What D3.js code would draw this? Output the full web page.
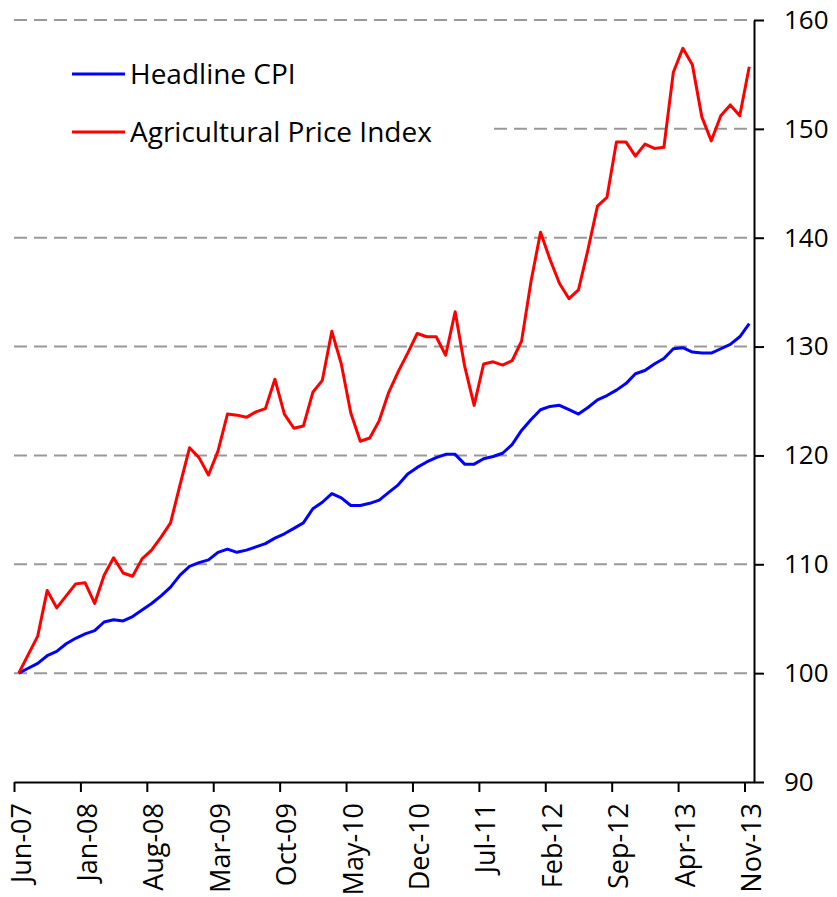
<!DOCTYPE html>
<html lang="en">
<head>
    <meta charset="UTF-8">
    <title>CPI vs Agricultural Price Index</title>
    <script src="https://d3js.org/d3.v7.min.js"></script>
    <style>
        body{
            margin: 0;
            background: white;
        }
        svg text{
            font-family: "Open Sans", sans-serif;
            fill: black;
        }
    </style>
</head>
<body>
    <script>
        // tick labels along the bottom, one every 7 months
        const tickLabels = ["Jun-07","Jan-08","Aug-08","Mar-09","Oct-09","May-10",
                            "Dec-10","Jul-11","Feb-12","Sep-12","Apr-13","Nov-13"]
        const yTicks = [90,100,110,120,130,140,150,160]
        const gridValues = [100,110,120,130,140,150,160]

        // monthly values Jun-07 .. Nov-13 (index 100 = Jun-07)
        const headlineCPI = [100,100.45,100.9,101.6,102.0,102.7,103.2,103.6,103.9,104.7,
            104.9,104.8,105.2,105.8,106.4,107.1,107.9,109.0,109.8,110.15,
            110.4,111.1,111.4,111.1,111.3,111.6,111.9,112.4,112.8,113.3,
            113.8,115.1,115.7,116.5,116.1,115.4,115.4,115.6,115.9,116.6,
            117.3,118.3,118.9,119.4,119.8,120.1,120.1,119.2,119.2,119.7,
            119.9,120.2,121.0,122.3,123.3,124.2,124.5,124.6,124.2,123.8,
            124.4,125.1,125.5,126.0,126.6,127.5,127.8,128.4,128.9,129.8,
            129.9,129.5,129.4,129.4,129.8,130.2,130.9,132.1]

        const agriPrice = [100,101.7,103.4,107.6,106.0,107.1,108.2,108.3,106.4,109.0,
            110.6,109.2,108.9,110.5,111.3,112.5,113.8,117.3,120.7,119.8,
            118.2,120.4,123.8,123.7,123.5,124.0,124.3,127.0,123.8,122.5,
            122.7,125.8,126.9,131.4,128.4,123.9,121.3,121.6,123.2,125.8,
            127.7,129.4,131.2,130.9,130.9,129.2,133.2,128.2,124.6,128.4,
            128.6,128.3,128.7,130.5,136.0,140.5,138.0,135.8,134.4,135.2,
            138.9,142.9,143.7,148.8,148.8,147.5,148.6,148.2,148.3,155.2,
            157.4,155.9,151.1,148.9,151.2,152.2,151.2,155.7]

        const series = [
            {name:"Headline CPI", values:headlineCPI, color:"#0000ff"},
            {name:"Agricultural Price Index", values:agriPrice, color:"#ff0000"}
        ]

        const svgSize = {width:837,height:897}
        const plot = {left:14,right:754,top:20,bottom:782}

        const svg = d3.select("body")
                        .append("svg")
                        .attr("width",svgSize.width)
                        .attr("height",svgSize.height)

        // month index scale, points sit in the middle of each month
        const xScale = d3.scaleLinear()
                            .domain([0,78])
                            .range([plot.left,plot.right])
        const yScale = d3.scaleLinear()
                            .domain([90,160])
                            .range([plot.bottom,plot.top])

        // dashed gridlines
        svg.append("g").selectAll("line")
            .data(gridValues)
            .enter()
            .append("line")
            .attr("x1",plot.left)
            .attr("x2",plot.right)
            .attr("y1",d=>yScale(d))
            .attr("y2",d=>yScale(d))
            .attr("stroke","#999999")
            .attr("stroke-width",2)
            .attr("stroke-dasharray","13,7")

        // legend box hides part of the grid
        const legend = svg.append("g")
        legend.append("rect")
                .attr("x",plot.left)
                .attr("y",40)
                .attr("width",478)
                .attr("height",125)
                .attr("fill","white")

        // lines
        const lineGen = d3.line()
                            .x((d,i)=>xScale(i+0.5))
                            .y(d=>yScale(d))

        svg.selectAll(".series")
            .data(series)
            .enter()
            .append("path")
            .attr("class","series")
            .attr("d",d=>lineGen(d.values))
            .attr("fill","none")
            .attr("stroke",d=>d.color)
            .attr("stroke-width",3)
            .attr("stroke-linejoin","round")

        // right axis
        const yAxis = d3.axisRight(yScale)
                        .tickValues(yTicks)
                        .tickSize(10)
                        .tickSizeOuter(0)
                        .tickPadding(20)
        const yAxisG = svg.append("g")
                        .attr("transform",`translate(${plot.right},0)`)
                        .call(yAxis)
        yAxisG.selectAll("path, line").attr("stroke","black").attr("stroke-width",2)
        yAxisG.selectAll("text").style("font-size","26px")

        // bottom axis
        const xAxis = d3.axisBottom(xScale)
                        .tickValues(tickLabels.map((d,i)=>i*7))
                        .tickFormat(d=>tickLabels[d/7])
                        .tickSize(10)
                        .tickSizeOuter(0)
        const xAxisG = svg.append("g")
                        .attr("transform",`translate(0,${plot.bottom})`)
                        .call(xAxis)
        xAxisG.selectAll("path, line").attr("stroke","black").attr("stroke-width",2)
        xAxisG.selectAll("text")
                .attr("transform","rotate(-90)")
                .attr("text-anchor","end")
                .attr("x",-21)
                .attr("y",0)
                .attr("dy",16)
                .style("font-size","27px")

        // legend entries
        const entry = legend.selectAll(".entry")
                        .data(series)
                        .enter()
                        .append("g")
                        .attr("class","entry")
                        .attr("transform",(d,i)=>`translate(72,${74+i*58})`)
        entry.append("line")
                .attr("x1",0)
                .attr("x2",53)
                .attr("stroke",d=>d.color)
                .attr("stroke-width",3)
        entry.append("text")
                .attr("x",58)
                .attr("dy","0.35em")
                .style("font-size","28px")
                .text(d=>d.name)
    </script>
</body>
</html>
